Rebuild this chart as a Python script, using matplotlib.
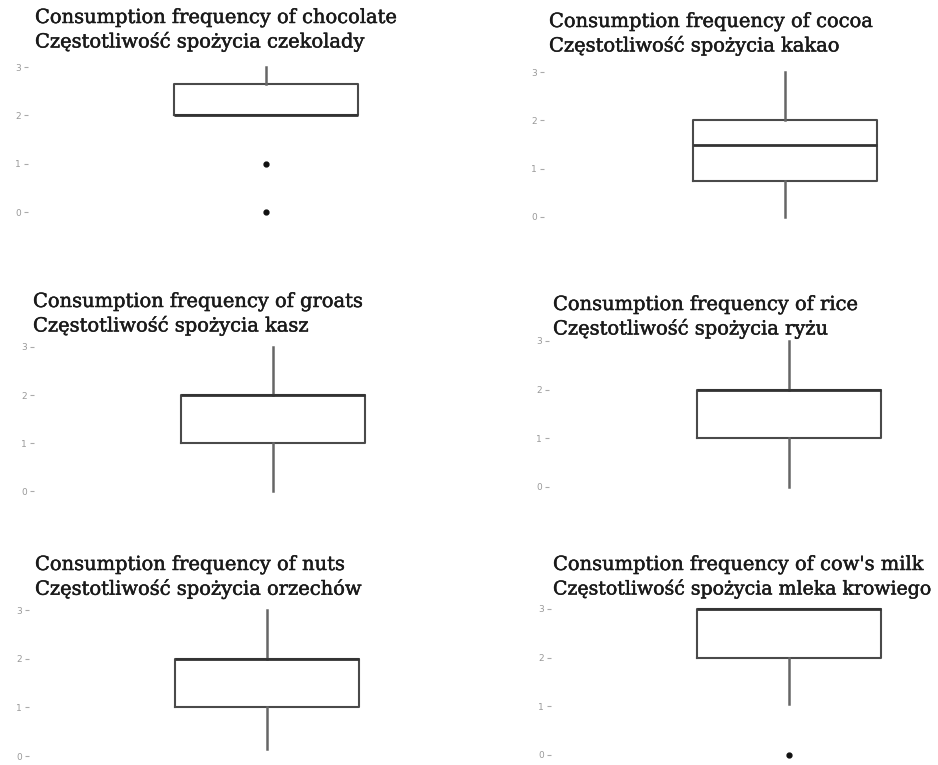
import matplotlib
matplotlib.use("Agg")
import matplotlib.pyplot as plt
import matplotlib.patheffects as pe

W, H = 938, 765

titles_en = [
    "Consumption frequency of chocolate",
    "Consumption frequency of cocoa",
    "Consumption frequency of groats",
    "Consumption frequency of rice",
    "Consumption frequency of nuts",
    "Consumption frequency of cow's milk",
]
titles_pl = [
    "Częstotliwość spożycia czekolady",
    "Częstotliwość spożycia kakao",
    "Częstotliwość spożycia kasz",
    "Częstotliwość spożycia ryżu",
    "Częstotliwość spożycia orzechów",
    "Częstotliwość spożycia mleka krowiego",
]
whislo = [2.0, 0.0, 0.0, 0.0, 0.15, 1.05]
q1 = [2.0, 0.75, 1.0, 1.0, 1.0, 2.0]
med = [2.0, 1.5, 2.0, 2.0, 2.0, 3.0]
q3 = [2.65, 2.0, 2.0, 2.0, 2.0, 3.0]
whishi = [3.0, 3.0, 3.0, 3.0, 3.0, 3.0]
fliers = [[1, 0], [], [], [], [], [0]]
yticks = [0, 1, 2, 3]

# layout (pixels)
axis_x = [28, 544, 34, 549, 29, 551]
center_x = [266, 785, 273, 789, 267, 789]
y3_px = [67, 72, 347, 341, 610, 609]
y0_px = [212, 217, 491, 487, 756, 755]
right_px = [460, 930, 460, 930, 460, 930]
title_x = [35, 549, 33, 553, 35, 553]
title_y1 = [18, 22, 302, 305, 565, 565]
box_half_px = 92
box_w = 0.75

fig = plt.figure(figsize=(W / 100, H / 100), dpi=100)
stroke = [pe.withStroke(linewidth=0.35, foreground="#1a1a1a")]
texts = []

for i in range(6):
    ppu_y = (y0_px[i] - y3_px[i]) / 3.0
    ymin, ymax = -0.2, 3.2
    top = y3_px[i] - (ymax - 3) * ppu_y
    bot = y0_px[i] + (0 - ymin) * ppu_y
    ppu_x = box_half_px / (box_w / 2)
    xmin = 1 - (center_x[i] - axis_x[i]) / ppu_x
    xmax = 1 + (right_px[i] - center_x[i]) / ppu_x
    ax = fig.add_axes([axis_x[i] / W, 1 - bot / H,
                       (right_px[i] - axis_x[i]) / W, (bot - top) / H])
    stats = [dict(whislo=whislo[i], q1=q1[i], med=med[i], q3=q3[i],
                  whishi=whishi[i], fliers=fliers[i])]
    ax.bxp(stats, positions=[1], widths=box_w, showcaps=False,
           boxprops=dict(color="#4a4a4a", linewidth=1.5),
           medianprops=dict(color="#333333", linewidth=2.0),
           whiskerprops=dict(color="#666666", linewidth=1.8),
           flierprops=dict(marker="o", markersize=3.5, markerfacecolor="#111111",
                           markeredgecolor="#111111"))
    ax.set_xlim(xmin, xmax)
    ax.set_ylim(ymin, ymax)
    ax.set_yticks(yticks)
    ax.set_yticklabels([str(t) for t in yticks])
    ax.set_xticks([])
    for s in ax.spines.values():
        s.set_visible(False)
    ax.tick_params(axis="y", length=3, width=0.8, color="#aaaaaa",
                   labelcolor="#999999", labelsize=6.5, pad=2)
    t1 = fig.text(title_x[i] / W, 1 - title_y1[i] / H, titles_en[i],
                  family="DejaVu Serif", fontsize=14, color="#1a1a1a",
                  va="center", ha="left", path_effects=stroke)
    t2 = fig.text(title_x[i] / W, 1 - (title_y1[i] + 24) / H, titles_pl[i],
                  family="DejaVu Serif", fontsize=14, color="#1a1a1a",
                  va="center", ha="left", path_effects=stroke)
    texts += [t1, t2]

# shrink any title that would run past the right edge
fig.canvas.draw()
renderer = fig.canvas.get_renderer()
for t in texts:
    bb = t.get_window_extent(renderer)
    limit = W - 5
    if bb.x1 > limit:
        t.set_fontsize(t.get_fontsize() * (limit - bb.x0) / (bb.x1 - bb.x0))

fig.savefig("out.png", dpi=100)
